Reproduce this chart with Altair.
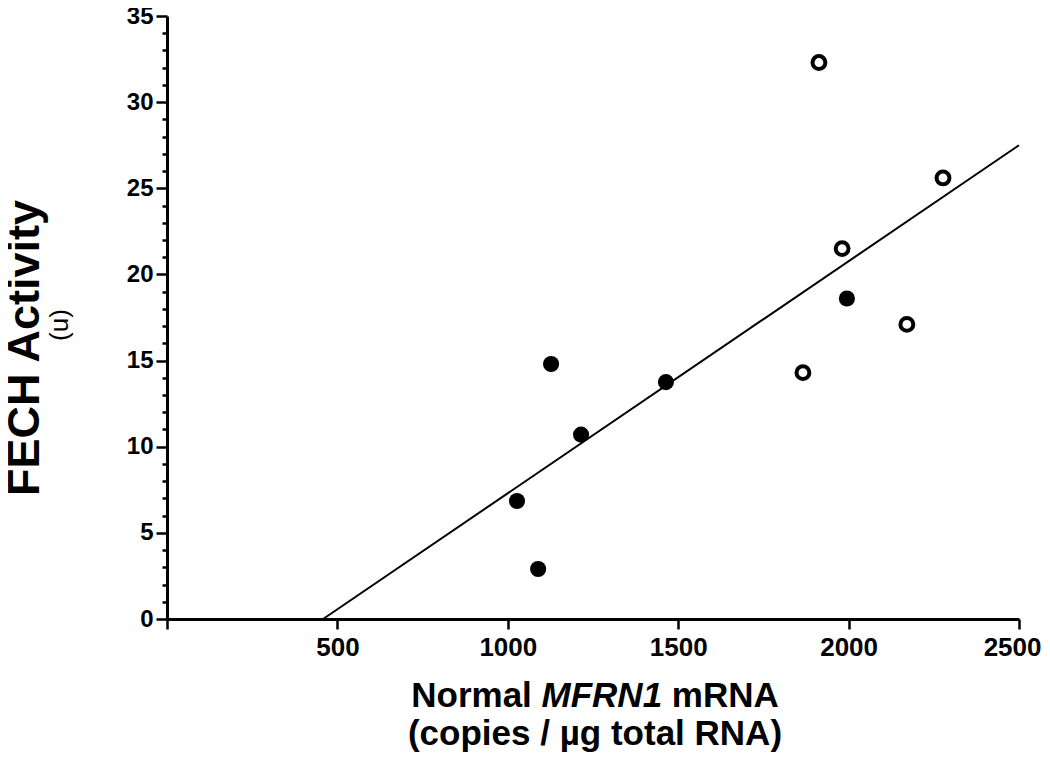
import altair as alt
import pandas as pd

# ---- data ----
filled_x = [1027, 1089, 1127, 1215, 1464, 1995]
filled_y = [6.85, 2.9, 14.8, 10.7, 13.75, 18.6]
open_x = [1866, 1913, 1981, 2171, 2277]
open_y = [14.3, 32.3, 21.5, 17.1, 25.6]
fit_x = [458, 2500]
fit_y = [0, 27.5]

x_ticks = [0, 500, 1000, 1500, 2000, 2500]
y_ticks = list(range(0, 36))  # major every 5, minor every 1

FONT = "Liberation Sans"
W, H = 852, 603

df_f = pd.DataFrame({"x": filled_x, "y": filled_y})
df_o = pd.DataFrame({"x": open_x, "y": open_y})
df_l = pd.DataFrame({"x": fit_x, "y": fit_y})

xs = alt.Scale(domain=[0, 2500], nice=False)
ys = alt.Scale(domain=[0, 35], nice=False)

x_axis = alt.Axis(values=x_ticks, labelExpr="datum.value == 0 ? '' : '' + datum.value",
                  title=None, grid=False, domainColor="black", domainWidth=3,
                  tickColor="black", tickWidth=2.5, tickSize=10, labelFont=FONT,
                  labelFontSize=26, labelFontWeight="bold", labelColor="black",
                  labelPadding=5, labelFlush=True, labelFlushOffset=22,
                  labelOverlap=False)
y_axis = alt.Axis(values=y_ticks,
                  labelExpr="datum.value % 5 == 0 ? '' + datum.value : ''",
                  title=None, grid=False, domainColor="black",
                  domainWidth=3, tickColor="black", tickWidth=2.5,
                  tickSize={"condition": {"test": "datum.value % 5 === 0", "value": 11},
                            "value": 5},
                  labelFont=FONT, labelFontSize=24, labelFontWeight="bold",
                  labelColor="black", labelPadding=3, orient="left",
                  labelFlush=False, labelOverlap=False)

X = alt.X("x:Q", scale=xs, axis=x_axis)
Y = alt.Y("y:Q", scale=ys, axis=y_axis)

line = alt.Chart(df_l).mark_line(color="black", strokeWidth=2).encode(x=X, y=Y)
filled = alt.Chart(df_f).mark_point(shape="circle", filled=True, color="black",
                                   size=260, opacity=1).encode(x=X, y=Y)
opened = alt.Chart(df_o).mark_point(shape="circle", filled=False, color="black",
                                   fill="white", fillOpacity=1, size=165,
                                   strokeWidth=4, opacity=1).encode(x=X, y=Y)


def label(txt, x, y, size, weight="bold", style="normal", align="center",
          angle=0, baseline="alphabetic"):
    return alt.Chart(pd.DataFrame({"t": [txt]})).mark_text(
        font=FONT, fontSize=size, fontWeight=weight, fontStyle=style,
        align=align, baseline=baseline, angle=angle, color="black"
    ).encode(text="t:N", x=alt.value(x), y=alt.value(y))


S = 35
start = 595 - 167 - (10.5 * S) / 2
titles = [
    label("Normal", start + 3.445 * S, 691, S, align="right"),
    label("MFRN1", start + 3.723 * S, 691, S, style="italic", align="left"),
    label("mRNA", start + (3.723 + 3.444 + 0.278) * S, 691, S, align="left"),
    label("(copies / \u00b5g total RNA)", 428, 729, S),
    label("FECH Activity", -142, 348 - 16, 45, angle=270, baseline="middle"),
    label("(u)", -107, 309, 26, weight="normal", angle=270, baseline="middle"),
]

chart = alt.layer(line, filled, opened, *titles).properties(
    width=W, height=H,
    background="white",
    autosize=alt.AutoSizeParams(type="none"),
    padding={"left": 159, "top": 8, "right": 23, "bottom": 137},
).configure_view(stroke=None)

chart.save("out.html", embed_options={"renderer": "svg", "actions": False})
